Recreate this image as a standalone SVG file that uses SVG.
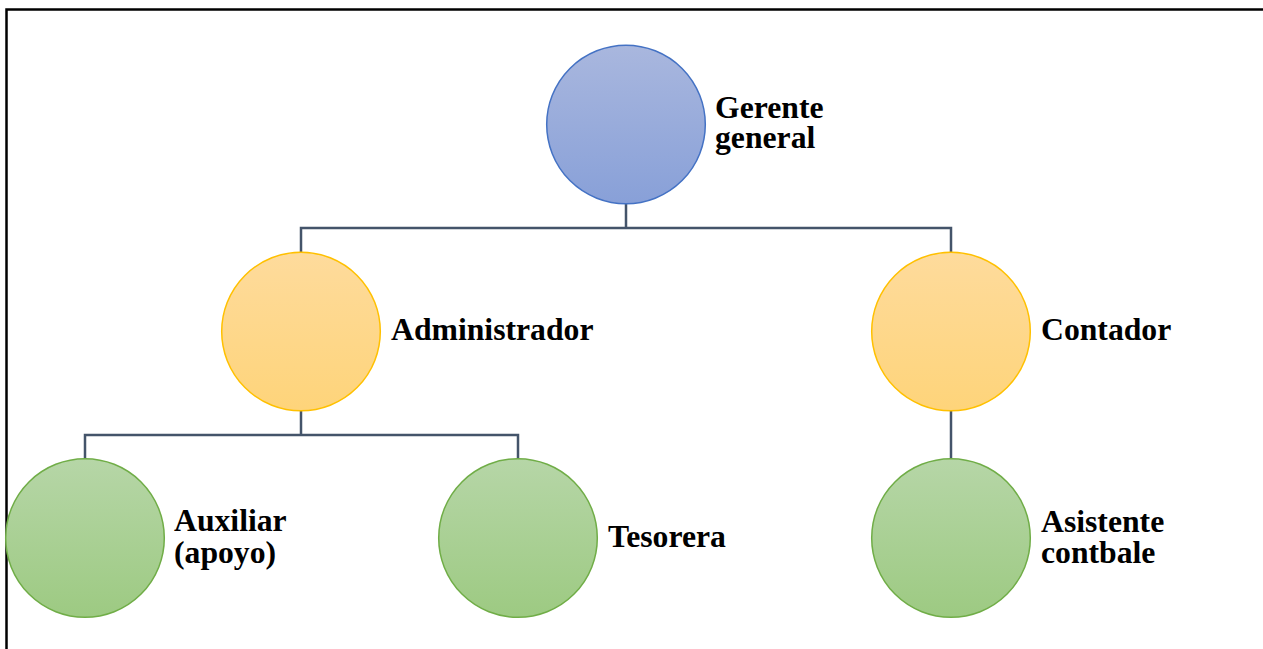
<svg xmlns="http://www.w3.org/2000/svg" width="1263" height="649" viewBox="0 0 1263 649">
  <style>
    .lbl { font-family: "Liberation Serif", "Times New Roman", serif; font-weight: bold; font-size: 31.7px; fill: #000; }
    .conn { fill: none; stroke: #44546a; stroke-width: 2.5; }
    .blue { fill: url(#gBlue); stroke: #4472c4; stroke-width: 1.5; }
    .orange { fill: url(#gOrange); stroke: #ffc000; stroke-width: 1.5; }
    .green { fill: url(#gGreen); stroke: #70ad47; stroke-width: 1.5; }
  </style>
  <defs>
    <linearGradient id="gBlue" x1="0" y1="0" x2="0" y2="1">
      <stop offset="0" stop-color="#a9b7de"/>
      <stop offset="1" stop-color="#88a0d8"/>
    </linearGradient>
    <linearGradient id="gOrange" x1="0" y1="0" x2="0" y2="1">
      <stop offset="0" stop-color="#fedb9c"/>
      <stop offset="1" stop-color="#fed47a"/>
    </linearGradient>
    <linearGradient id="gGreen" x1="0" y1="0" x2="0" y2="1">
      <stop offset="0" stop-color="#b6d6a7"/>
      <stop offset="1" stop-color="#9dca82"/>
    </linearGradient>
  </defs>

  <rect x="0" y="0" width="1263" height="649" fill="#fff"/>
  <!-- outer frame -->
  <rect x="6.5" y="9.5" width="1300" height="700" fill="none" stroke="#000" stroke-width="2.5"/>

  <!-- connectors -->
  <g id="connectors">
    <path class="conn" d="M626 204 V228 M301 252 V228 H951 V252"/>
    <path class="conn" d="M301 411 V435 M85 459 V435 H518 V459"/>
    <path class="conn" d="M951 411 V459"/>
  </g>

  <g id="gerente">
    <circle class="blue" cx="626" cy="124.5" r="79.3"/>
    <text class="lbl" x="715" y="118">Gerente</text>
    <text class="lbl" x="715" y="148">general</text>
  </g>

  <g id="administrador">
    <circle class="orange" cx="301" cy="331.5" r="79.3"/>
    <text class="lbl" x="391" y="340">Administrador</text>
  </g>

  <g id="contador">
    <circle class="orange" cx="951" cy="331.5" r="79.3"/>
    <text class="lbl" x="1041" y="340">Contador</text>
  </g>

  <g id="auxiliar">
    <circle class="green" cx="85" cy="538" r="79.3"/>
    <text class="lbl" x="174" y="531">Auxiliar</text>
    <text class="lbl" x="174" y="563">(apoyo)</text>
  </g>

  <g id="tesorera">
    <circle class="green" cx="518" cy="538" r="79.3"/>
    <text class="lbl" x="608" y="547">Tesorera</text>
  </g>

  <g id="asistente">
    <circle class="green" cx="951" cy="538" r="79.3"/>
    <text class="lbl" x="1041" y="532">Asistente</text>
    <text class="lbl" x="1041" y="563">contbale</text>
  </g>
</svg>
